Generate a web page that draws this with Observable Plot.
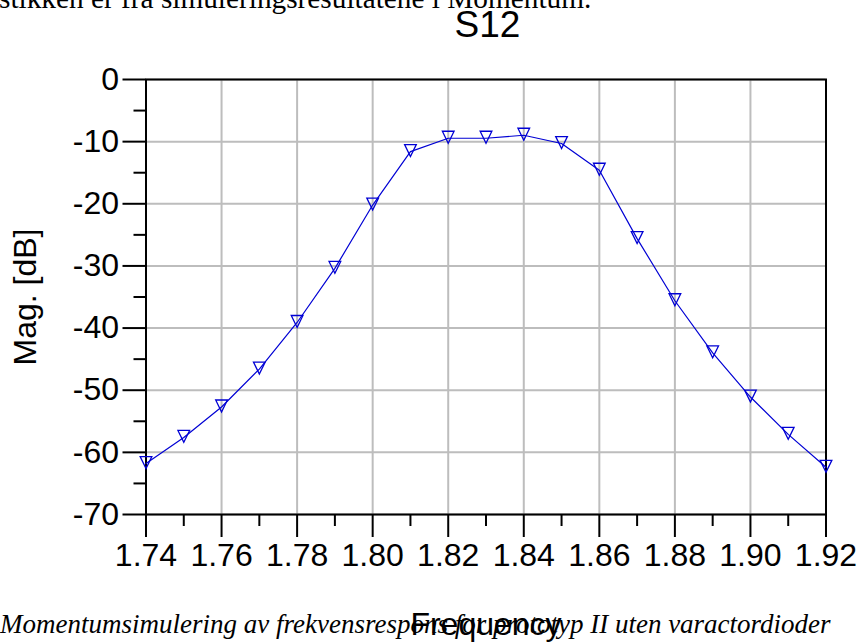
<!DOCTYPE html>
<html><head><meta charset="utf-8">
<script src="https://cdn.jsdelivr.net/npm/d3@7"></script>
<script src="https://cdn.jsdelivr.net/npm/@observablehq/plot@0.6"></script>
<style>
html,body{margin:0;padding:0;background:#fff;}
#wrap{position:relative;width:859px;height:642px;overflow:hidden;}
#wrap svg{position:absolute;left:0;top:0;}
.serif{position:absolute;left:0;font-family:"Liberation Serif","Times New Roman",serif;white-space:nowrap;color:#000;z-index:2;}
</style></head><body>
<div id="wrap">
  <div class="serif" id="toptext" style="top:-16.2px;left:-1px;font-size:29.3px;line-height:29.3px"></div>
  <div class="serif" id="caption" style="top:611.4px;font-style:italic;font-size:27px;line-height:27px"></div>
</div>
<script>
// ---- data ----
const freq = [1.74, 1.75, 1.76, 1.77, 1.78, 1.79, 1.80, 1.81, 1.82, 1.83, 1.84, 1.85, 1.86, 1.87, 1.88, 1.89, 1.90, 1.91, 1.92];
const magDb = [-61.8, -57.6, -52.7, -46.6, -39.1, -30.4, -20.2, -11.6, -9.45, -9.45, -8.97, -10.3, -14.6, -25.6, -35.6, -44.0, -51.1, -57.1, -62.4];
const xMajor = [1.74, 1.76, 1.78, 1.80, 1.82, 1.84, 1.86, 1.88, 1.90, 1.92];
const xMinor = [1.75, 1.77, 1.79, 1.81, 1.83, 1.85, 1.87, 1.89, 1.91];
const yMajor = [0, -10, -20, -30, -40, -50, -60, -70];
const yMinor = [-5, -15, -25, -35, -45, -55, -65];
const titleText = "S12";
const xLabel = "Frequency";
const yLabel = "Mag. [dB]";
const topText = "stikken er fra simuleringsresultatene i Momentum.";
const captionText = "Momentumsimulering av frekvensrespons for prototyp II uten varactordioder";

const rows = freq.map((f, i) => ({f, m: magDb[i]}));
const blue = "#0000d4";

const triDown = {
  draw(ctx, size) {
    const r = Math.sqrt(size / Math.PI);
    ctx.moveTo(-1.3 * r, -1.55 * r);
    ctx.lineTo(1.3 * r, -1.55 * r);
    ctx.lineTo(0, 1.1 * r);
    ctx.closePath();
  }
};

const chart = Plot.plot({
  width: 859,
  height: 642,
  marginLeft: 145.5,
  marginRight: 33.5,
  marginTop: 79,
  marginBottom: 128,
  style: {fontFamily: "'Liberation Sans', Arial, sans-serif", background: "transparent", overflow: "visible"},
  x: {domain: [1.74, 1.92], label: null},
  y: {domain: [-70, 0], label: null},
  marks: [
    Plot.ruleX(xMajor, {x: d => d, stroke: "#bdbdbd", strokeWidth: 2}),
    Plot.ruleY(yMajor, {y: d => d, stroke: "#bdbdbd", strokeWidth: 2}),
    Plot.frame({stroke: "black", strokeWidth: 2}),
    Plot.axisY(yMajor, {tickSize: 23, tickPadding: 4, tickFormat: d => String(d), fontSize: 32, strokeWidth: 2, label: null}),
    Plot.axisY(yMinor, {tickSize: 12, tickFormat: () => "", strokeWidth: 2, label: null}),
    Plot.axisX(xMajor, {tickSize: 23, tickPadding: 6, tickFormat: d => d.toFixed(2), fontSize: 32, strokeWidth: 2, label: null}),
    Plot.axisX(xMinor, {tickSize: 12, tickFormat: () => "", strokeWidth: 2, label: null}),
    Plot.line(rows, {x: "f", y: "m", stroke: blue, strokeWidth: 1.2}),
    Plot.dot(rows, {x: "f", y: "m", symbol: triDown, r: 4.5, stroke: blue, fill: "none", strokeWidth: 1.3}),
    Plot.text([titleText], {text: d => d, frameAnchor: "top", dx: 1.5, dy: -54.5, lineAnchor: "middle", fontSize: 37}),
    Plot.text([xLabel], {text: d => d, frameAnchor: "bottom", dy: 110, lineAnchor: "middle", fontSize: 32}),
    Plot.text([yLabel], {text: d => d, frameAnchor: "left", dx: -120.5, rotate: -90, lineAnchor: "middle", textAnchor: "middle", fontSize: 32})
  ]
});
const wrap = document.getElementById("wrap");
wrap.insertBefore(chart, wrap.firstChild);
document.getElementById("toptext").textContent = topText;
document.getElementById("caption").textContent = captionText;
</script>
</body></html>
